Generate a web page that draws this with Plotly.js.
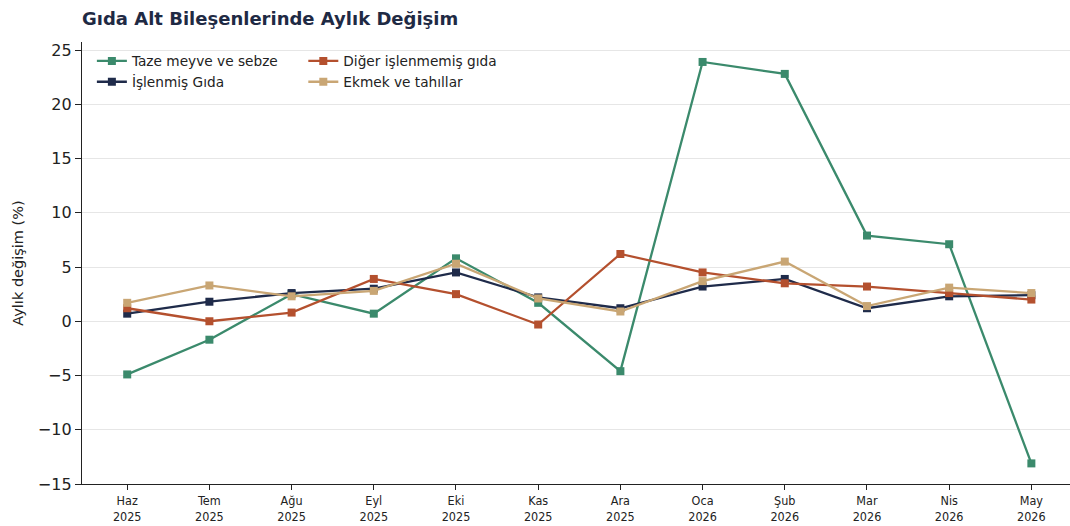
<!DOCTYPE html>
<html><head><meta charset="utf-8">
<script src="https://cdn.plot.ly/plotly-3.0.1.min.js"></script>
<style>html,body{margin:0;padding:0;background:#fff}#c{width:1070px;height:526px}</style>
</head><body><div id="c"></div>
<script>
const months = ["Haz<br>2025","Tem<br>2025","Ağu<br>2025","Eyl<br>2025","Eki<br>2025","Kas<br>2025","Ara<br>2025","Oca<br>2026","Şub<br>2026","Mar<br>2026","Nis<br>2026","May<br>2026"];
const taze = [-4.9,-1.7,2.5,0.7,5.8,1.7,-4.6,23.9,22.8,7.9,7.1,-13.1];
const diger = [1.2,0.0,0.8,3.9,2.5,-0.3,6.2,4.5,3.5,3.2,2.6,2.0];
const islenmis = [0.7,1.8,2.6,3.0,4.5,2.2,1.2,3.2,3.9,1.2,2.3,2.4];
const ekmek = [1.7,3.3,2.3,2.8,5.3,2.1,0.9,3.7,5.5,1.4,3.1,2.6];

const idx = months.map((_, i) => i);
function tr(name, y, color, legend){
  return {type:'scatter', mode:'lines+markers', name, x:idx, y, legend,
    line:{color, width:2.3}, marker:{symbol:'square', size:8, color}};
}
const data = [
  tr('Taze meyve ve sebze', taze, '#3b8a6c', 'legend'),
  tr('İşlenmiş Gıda', islenmis, '#1f2b4a', 'legend'),
  tr('Diğer işlenmemiş gıda', diger, '#b4502e', 'legend2'),
  tr('Ekmek ve tahıllar', ekmek, '#c9a674', 'legend2')
];
const font = {family:'DejaVu Sans, sans-serif', color:'#222'};
const legBase = {orientation:'v', xanchor:'left', yanchor:'top', bgcolor:'rgba(0,0,0,0)',
  font:{family:'DejaVu Sans', size:13.7, color:'#222'}, tracegroupgap:0, itemwidth:30};
const layout = {
  width:1070, height:526,
  margin:{l:82, r:0, t:42, b:42},
  paper_bgcolor:'#fff', plot_bgcolor:'#fff',
  font,
  title:{text:'<b>Gıda Alt Bileşenlerinde Aylık Değişim</b>', x:82/1070, xanchor:'left', y:0.965, yanchor:'middle',
    font:{family:'DejaVu Sans', size:18, color:'#1f2a44'}},
  xaxis:{range:[-0.55,11.47], tickvals:idx, ticktext:months, showgrid:false, zeroline:false,
    showline:true, linecolor:'#222', linewidth:1.2, ticks:'outside', ticklen:5, tickcolor:'#222',
    tickfont:{family:'DejaVu Sans Condensed, DejaVu Sans', size:12.5, color:'#222'}},
  yaxis:{range:[-15,25.74], tickvals:[-15,-10,-5,0,5,10,15,20,25], ticktext:['−15','−10','−5','0','5','10','15','20','25'],
    showgrid:true, gridcolor:'#e6e6e6', gridwidth:1, zeroline:false,
    showline:true, linecolor:'#222', linewidth:1.2, ticks:'outside', ticklen:6, tickcolor:'#222',
    tickfont:{family:'DejaVu Sans', size:16, color:'#222'},
    title:{text:'Aylık değişim (%)', standoff:10, font:{family:'DejaVu Sans', size:14.5, color:'#222'}}},
  legend:Object.assign({}, legBase, {x:0.010, y:0.992}),
  legend2:Object.assign({}, legBase, {x:0.224, y:0.992}),
  showlegend:true
};
Plotly.newPlot('c', data, layout, {displayModeBar:false, staticPlot:true});
</script></body></html>
